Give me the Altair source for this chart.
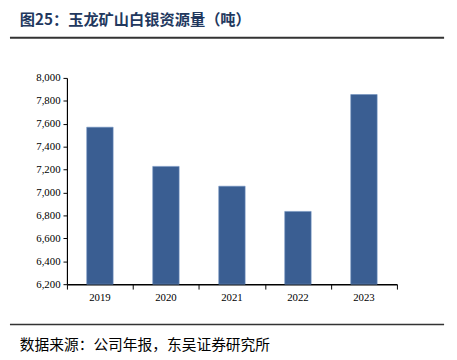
import altair as alt
import pandas as pd

years = ["2019", "2020", "2021", "2022", "2023"]
values = [7570, 7228, 7055, 6835, 7855]
y_ticks = [6200, 6400, 6600, 6800, 7000, 7200, 7400, 7600, 7800, 8000]
boundaries = [0, 1, 2, 3, 4, 5]
title_text = "图25：玉龙矿山白银资源量（吨）"
source_text = "数据来源：公司年报，东吴证券研究所"

df = pd.DataFrame({"year": years, "value": values})
bdf = pd.DataFrame({"b": boundaries})

W, H = 336, 210
serif = "Liberation Serif"
cjk = "Noto Sans CJK SC"

bars = alt.Chart(df).mark_bar(color="#3A5E92", stroke="#6E8FBF", strokeWidth=0.6).encode(
    x=alt.X("year:N", sort=years, title=None,
            scale=alt.Scale(paddingInner=0.6, paddingOuter=0.3),
            axis=alt.Axis(orient="bottom", ticks=False, domain=False, labelAngle=0,
                          labelPadding=8)),
    y=alt.Y("value:Q", title=None,
            scale=alt.Scale(domain=[6200, 8000], zero=False, nice=False),
            axis=alt.Axis(values=y_ticks, labelExpr="format(datum.value, ',')",
                          grid=False, tickSize=4, labelPadding=3)),
    y2=alt.datum(6200),
)

ticks = alt.Chart(bdf).mark_point(opacity=0).encode(
    x=alt.X("b:Q", title=None, scale=alt.Scale(domain=[0, 5], nice=False),
            axis=alt.Axis(orient="bottom", values=boundaries, labels=False, grid=False,
                          tickSize=5, domainWidth=1.5)),
)

line_df = pd.DataFrame({"k": [0]})
title_mark = alt.Chart(line_df).mark_text(
    text=title_text, font=cjk, fontSize=15.5, fontWeight="bold", color="#22385E",
    align="left", baseline="middle").encode(x=alt.value(-48), y=alt.value(-59))
top_rule = alt.Chart(line_df).mark_rule(color="#333333", strokeWidth=2).encode(
    x=alt.value(-58), x2=alt.value(384), y=alt.value(-41))
bottom_rule = alt.Chart(line_df).mark_rule(color="#333333", strokeWidth=1.5).encode(
    x=alt.value(-58), x2=alt.value(384), y=alt.value(251))
source_mark = alt.Chart(line_df).mark_text(
    text=source_text, font=cjk, fontSize=15, color="#000000",
    align="left", baseline="middle").encode(x=alt.value(-48), y=alt.value(272))

chart = alt.layer(bars, ticks, title_mark, top_rule, bottom_rule, source_mark).resolve_scale(
    x="independent"
).properties(
    width=W, height=H,
    background="#ffffff",
    autosize=alt.AutoSizeParams(type="none"),
    padding={"left": 60, "top": 68, "right": 53, "bottom": 74},
).configure_view(stroke=None).configure_axis(
    labelFont=serif, labelFontSize=11, labelColor="#000000",
    domainColor="#000000", tickColor="#000000", domainWidth=1.2,
)

chart.save("out.html", embed_options={"renderer": "svg", "actions": False})
